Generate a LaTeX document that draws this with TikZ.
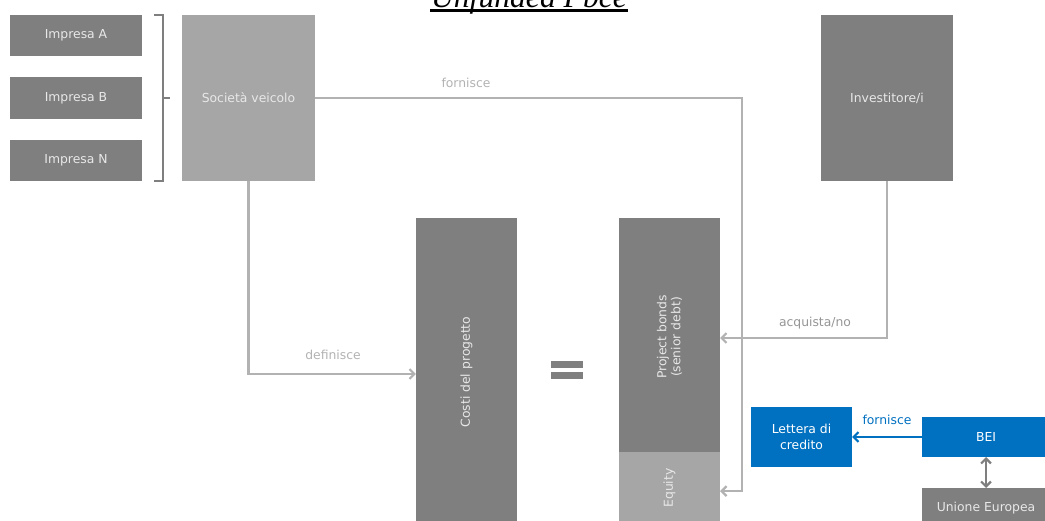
\documentclass[tikz,border=0pt]{standalone}
\usepackage{fontspec}
\setmainfont{Liberation Serif}
\setsansfont{DejaVu Sans}
\usepackage{xcolor}
\usetikzlibrary{arrows.meta,positioning,calc}
\definecolor{pbdark}{RGB}{127,127,127}
\definecolor{pblight}{RGB}{166,166,166}
\definecolor{pbline}{RGB}{178,178,178}
\definecolor{pbtext}{RGB}{232,232,232}
\definecolor{pbblue}{RGB}{0,112,192}

\begin{document}
\begin{tikzpicture}[
    x=0.025cm, y=-0.025cm,
    >={Straight Barb[length=3.5pt,width=7pt]},
    darkblock/.style={rectangle, fill=pbdark, text=pbtext, font=\sffamily\fontsize{8.8}{11}\selectfont, inner sep=0pt, outer sep=0pt},
    lightblock/.style={rectangle, fill=pblight, text=pbtext, font=\sffamily\fontsize{8.8}{11}\selectfont, inner sep=0pt, outer sep=0pt},
    blueblock/.style={rectangle, fill=pbblue, text=white, font=\sffamily\fontsize{8.8}{11}\selectfont, align=center, inner sep=0pt, outer sep=0pt},
    flow/.style={draw=pbline, line width=1.6pt},
    flowlabel/.style={text=pbline, font=\sffamily\fontsize{8.8}{11}\selectfont}
]
\useasboundingbox (0,0) rectangle (1045,520);

% Title
\node[anchor=base, font=\itshape\fontsize{22.5}{26}\selectfont] (title) at (529,7) {Unfunded Pbce};
\draw[line width=1.5pt] (430,10.5) -- (628,10.5);

% Companies
\node[darkblock, minimum width=3.3cm, minimum height=1.025cm] (impresaA) at (76,35.5) {Impresa A};
\node[darkblock, minimum width=3.3cm, minimum height=1.025cm] (impresaB) at (76,98) {Impresa B};
\node[darkblock, minimum width=3.3cm, minimum height=1.025cm] (impresaN) at (76,160.5) {Impresa N};

% Bracket
\draw[pbdark, line width=0.9pt] (154,15) -- (163,15) -- (163,181) -- (154,181);
\draw[pbdark, line width=0.9pt] (163,98) -- (170,98);

% Main blocks
\node[lightblock, minimum width=3.325cm, minimum height=4.15cm] (veicolo) at (248.5,98) {Società veicolo};
\node[darkblock, minimum width=3.3cm, minimum height=4.15cm] (investitore) at (887,98) {Investitore/i};
\node[darkblock, minimum width=2.525cm, minimum height=7.8cm] (costi) at (466.5,374) {};
\node[darkblock, minimum width=2.525cm, minimum height=5.85cm] (bonds) at (669.5,335) {};
\node[lightblock, minimum width=2.525cm, minimum height=1.95cm, below=0pt of bonds] (equity) {};

% Rotated texts
\node[rotate=90, text=pbtext, font=\sffamily\fontsize{8.8}{11}\selectfont] (costitext) at (466.5,372) {Costi del progetto};
\node[rotate=90, text=pbtext, align=center, font=\sffamily\fontsize{8.8}{10}\selectfont] (bondstext) at (669.5,337) {Project bonds\\(senior debt)};
\node[rotate=90, text=pbtext, font=\sffamily\fontsize{8.8}{11}\selectfont] (equitytext) at (669.5,488) {Equity};

% Equal sign
\fill[pbdark] (551,361) rectangle (583,368);
\fill[pbdark] (551,372) rectangle (583,379);

% Guarantee side
\node[blueblock, minimum width=2.525cm, minimum height=1.5cm] (lettera) at (801.5,437) {Lettera di\\credito};
\node[blueblock, minimum width=3.2cm, minimum height=1cm] (bei) at (986,437) {BEI};
\node[darkblock, minimum width=3.2cm, minimum height=1cm] (ue) at (986,508) {Unione Europea};

% Arrows
\draw[flow, ->] (veicolo.east) -| ([xshift=0.55cm]equity.east) -- (equity.east);
\draw[flow, ->] (veicolo.south) |- (costi.west);
\draw[flow, ->] (investitore.south) |- ([yshift=-0.075cm]bonds.east);
\draw[draw=pbblue, line width=1.6pt, ->] (bei.west) -- (lettera.east);
\draw[draw=pbdark, line width=1.6pt, <->] (bei.south) -- (ue.north);

% Labels
\node[flowlabel] (fornisce) at (466,83) {fornisce};
\node[flowlabel] (definisce) at (333,355) {definisce};
\node[flowlabel, text=pblight!90!black] (acquista) at (815,323) {acquista/no};
\node[flowlabel, text=pbblue] (fornisceBEI) at (887,420) {fornisce};

\end{tikzpicture}
\end{document}
